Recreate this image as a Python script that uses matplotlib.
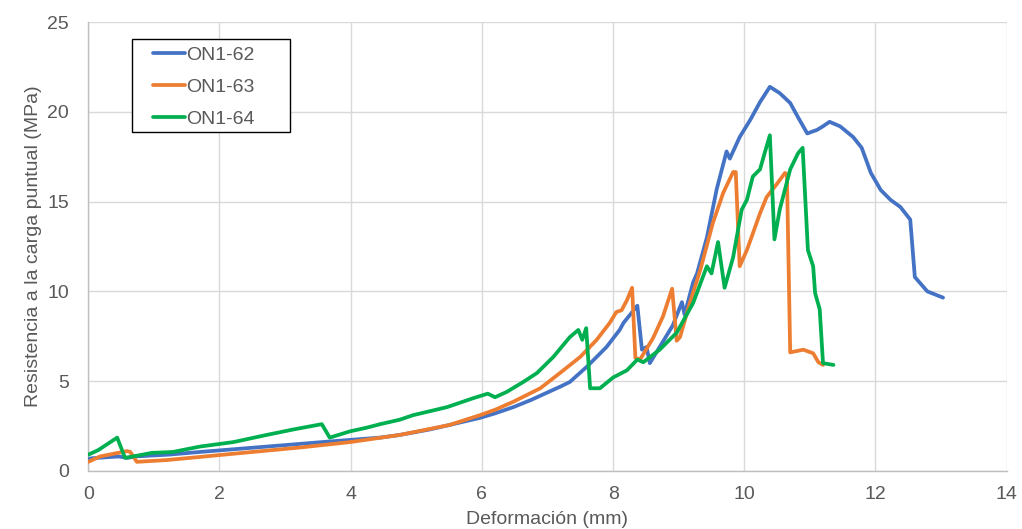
import matplotlib
matplotlib.use("Agg")
import matplotlib.pyplot as plt
from matplotlib.patches import Rectangle

plt.rcParams['font.family'] = ['Liberation Sans', 'DejaVu Sans']

# ON1-62
x62 = [0, 0.05, 0.46, 0.6, 0.71, 1.22, 1.7, 2.72, 3.73, 4.45, 4.75, 5.2, 5.5, 5.97,
       6.2, 6.48, 6.75, 6.99, 7.2, 7.34, 7.6, 7.9, 8.1, 8.16, 8.37, 8.44, 8.51, 8.56,
       8.71, 8.91, 9.05, 9.09, 9.22, 9.28, 9.43, 9.58, 9.73, 9.78, 9.93, 10.09, 10.24,
       10.39, 10.54, 10.7, 10.82, 10.96, 11.11, 11.2, 11.3, 11.46, 11.66, 11.79, 11.93,
       12.08, 12.23, 12.38, 12.53, 12.6, 12.79, 13.03]
y62 = [0.65, 0.7, 0.8, 0.72, 0.8, 0.9, 1.05, 1.35, 1.65, 1.85, 2.0, 2.3, 2.55, 2.95,
       3.2, 3.55, 3.95, 4.35, 4.7, 4.95, 5.8, 6.9, 7.85, 8.25, 9.2, 6.75, 6.9, 6.0,
       6.9, 8.1, 9.4, 8.7, 10.5, 11.0, 13.0, 15.7, 17.8, 17.4, 18.6, 19.55, 20.55,
       21.4, 21.05, 20.5, 19.7, 18.8, 19.0, 19.2, 19.45, 19.2, 18.6, 18.0, 16.6,
       15.65, 15.1, 14.7, 14.0, 10.8, 10.0, 9.65]

# ON1-63
x63 = [0, 0.18, 0.59, 0.64, 0.74, 0.97, 1.2, 2.21, 3.23, 3.99, 4.75, 5.5, 5.97, 6.2,
       6.48, 6.89, 7.19, 7.5, 7.75, 7.95, 8.05, 8.13, 8.21, 8.29, 8.34, 8.41, 8.61,
       8.76, 8.9, 8.97, 9.02, 9.17, 9.33, 9.52, 9.68, 9.83, 9.87, 9.93, 10.04, 10.24,
       10.34, 10.5, 10.62, 10.65, 10.7, 10.9, 11.05, 11.13, 11.2]
y63 = [0.5, 0.8, 1.1, 1.05, 0.5, 0.55, 0.6, 0.95, 1.3, 1.6, 2.0, 2.55, 3.1, 3.4,
       3.85, 4.6, 5.45, 6.35, 7.3, 8.25, 8.85, 8.95, 9.5, 10.2, 6.3, 6.2, 7.4,
       8.6, 10.15, 7.25, 7.45, 9.35, 11.2, 13.8, 15.5, 16.65, 16.65, 11.4, 12.3, 14.35,
       15.25, 16.0, 16.6, 16.5, 6.6, 6.75, 6.55, 6.05, 5.9]

# ON1-64
x64 = [0, 0.15, 0.44, 0.56, 0.68, 0.97, 1.29, 1.7, 2.21, 2.72, 3.12, 3.56, 3.68, 3.99,
       4.24, 4.45, 4.75, 4.95, 5.47, 5.87, 6.09, 6.2, 6.38, 6.63, 6.84, 7.09, 7.34, 7.47,
       7.53, 7.59, 7.65, 7.8, 8.0, 8.21, 8.37, 8.46, 8.71, 8.97, 9.22, 9.43, 9.5, 9.6,
       9.7, 9.83, 9.96, 10.04, 10.13, 10.24, 10.31, 10.39, 10.46, 10.54, 10.7, 10.82,
       10.89, 10.97, 11.05, 11.08, 11.15, 11.2, 11.36]
y64 = [0.9, 1.15, 1.85, 0.72, 0.8, 1.0, 1.05, 1.35, 1.6, 2.0, 2.3, 2.6, 1.85, 2.2,
       2.4, 2.6, 2.85, 3.1, 3.55, 4.05, 4.3, 4.1, 4.4, 4.95, 5.45, 6.35, 7.45, 7.85,
       7.3, 7.95, 4.6, 4.6, 5.2, 5.6, 6.2, 6.05, 6.75, 7.7, 9.35, 11.4, 11.0, 12.75,
       10.2, 11.9, 14.55, 15.1, 16.4, 16.8, 17.7, 18.7, 12.9, 14.55, 16.8, 17.7,
       18.0, 12.3, 11.4, 9.9, 9.0, 6.0, 5.9]

series = [("ON1-62", x62, y62, "#4472C4"),
          ("ON1-63", x63, y63, "#ED7D31"),
          ("ON1-64", x64, y64, "#00B050")]

text_color = "#595959"
fs = 14

fig = plt.figure(figsize=(10.22, 5.29), dpi=100)
ax = fig.add_axes([0.0864, 0.110, 0.8986, 0.848])

for name, xs, ys, col in series:
    ax.plot(xs, ys, color=col, lw=2.7, label=name, solid_joinstyle="round",
            solid_capstyle="round", zorder=3)

ax.set_xlim(0, 14)
ax.set_ylim(0, 25)
ax.set_xticks(range(0, 15, 2))
ax.set_yticks(range(0, 26, 5))
ax.grid(True, color="#d9d9d9", lw=1.0, zorder=0)
ax.set_axisbelow(True)
for s in ("top", "right"):
    ax.spines[s].set_visible(False)
for s in ("left", "bottom"):
    ax.spines[s].set_color("#bfbfbf")
    ax.spines[s].set_linewidth(1.0)
ax.tick_params(length=0, labelsize=fs, colors=text_color)
ax.tick_params(axis="x", pad=11)
ax.tick_params(axis="y", pad=14)

ax.set_xlabel("Deformación (mm)", fontsize=fs, color=text_color, labelpad=6)
ax.set_ylabel("Resistencia a la carga puntual (MPa)", fontsize=fs, color=text_color,
              labelpad=4)

# legend box outline
ax.add_patch(Rectangle((0.0476, 0.755), 0.172, 0.207, transform=ax.transAxes,
                       facecolor="white", edgecolor="black", lw=1.0, zorder=4))
leg = ax.legend(loc="upper left", bbox_to_anchor=(0.070, 0.946), fontsize=fs,
                frameon=False, handlelength=1.65, handletextpad=0.1, borderpad=0,
                labelspacing=0.73, borderaxespad=0)
leg.set_zorder(5)
for t in leg.get_texts():
    t.set_color(text_color)

fig.savefig("out.png", dpi=100)
